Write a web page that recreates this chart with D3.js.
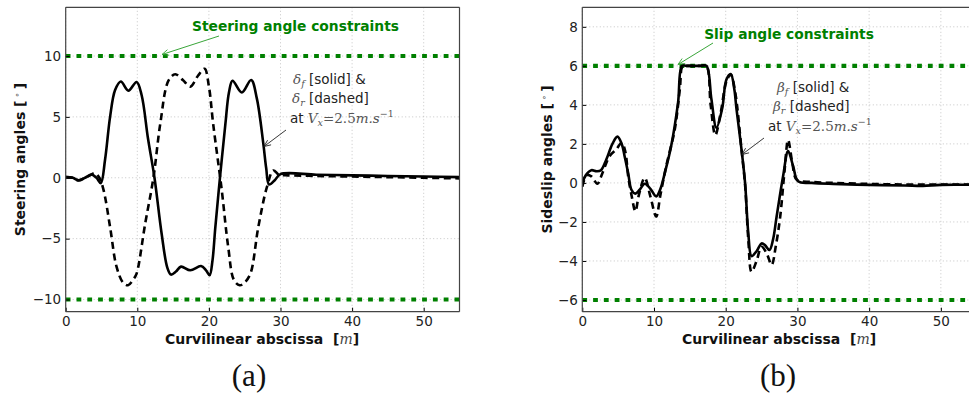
<!DOCTYPE html>
<html>
<head>
<meta charset="utf-8">
<script src="https://cdn.jsdelivr.net/npm/d3@7"></script>
<style>
  html, body { margin: 0; padding: 0; background: #fff; }
  svg { display: block; font-family: "DejaVu Sans", sans-serif; }
</style>
</head>
<body>
<svg id="chart" width="969" height="396"></svg>
<script>
// ---------------- DATA ----------------
// Panel (a): steering angles
const xTicksA = [0, 10, 20, 30, 40, 50];
const yTicksA = [-10, -5, 0, 5, 10];
const steeringLimit = [-10, 10];

const deltaF_x = [0, 1, 1.8, 2.7, 3.6, 4.3, 4.9, 5.5, 6.2, 6.9, 7.7, 8.75, 9.9, 10.6, 11.5, 12.4, 13.4, 14.2, 14.7, 15.4, 16.1, 17.4, 18.9, 19.6, 20.1, 20.5, 20.9, 21.6, 22.3, 22.8, 23.3, 24.6, 25.9, 26.7, 27.6, 28.0, 28.4, 29.2, 30.0, 35, 40, 45, 50, 55];
const deltaF_v = [0.05, 0.0, -0.22, 0.0, 0.27, 0.0, -0.44, 1.5, 5.0, 7.2, 7.9, 7.15, 7.87, 6.8, 3.2, 0.0, -4.6, -7.4, -7.95, -7.7, -7.3, -7.6, -7.25, -7.6, -8.0, -6.8, -4.05, 0.33, 4.4, 7.0, 7.97, 7.0, 8.03, 6.5, 2.8, 0.8, -0.55, -0.2, 0.3, 0.25, 0.2, 0.15, 0.1, 0.05];

const deltaR_x = [0, 1, 1.8, 2.7, 3.4, 4.1, 4.7, 5.3, 6.2, 7.1, 8.0, 8.7, 9.5, 9.9, 11.1, 12.25, 13.2, 14.35, 15.3, 16.4, 17.4, 18.5, 19.4, 20.0, 20.6, 21.8, 22.7, 23.5, 24.3, 25.0, 25.8, 26.9, 28.1, 29.0, 29.8, 31, 35, 40, 45, 50, 55];
const deltaR_v = [0.05, 0.0, -0.2, 0.0, 0.2, 0.38, 0.0, -1.04, -4.05, -7.3, -8.6, -8.83, -8.3, -7.87, -3.77, 0.0, 4.4, 7.97, 8.5, 8.0, 7.48, 8.4, 8.95, 7.5, 4.4, -1.04, -5.7, -8.4, -8.83, -8.6, -7.87, -4.05, -0.77, 0.6, 0.25, 0.2, 0.15, 0.1, 0.05, 0.0, -0.05];

// Panel (b): sideslip angles
const xTicksB = [0, 10, 20, 30, 40, 50];
const yTicksB = [-6, -4, -2, 0, 2, 4, 6, 8];
const slipLimit = [-6, 6];

const betaF_x = [0, 0.5, 1.26, 2.0, 2.6, 3.35, 4.2, 4.9, 5.5, 5.9, 6.4, 6.85, 7.4, 8.0, 8.7, 9.5, 10.3, 10.9, 11.5, 12.4, 13.35, 13.9, 14.5, 15.5, 16.5, 17.3, 18.0, 18.7, 19.5, 20.1, 20.7, 21.2, 21.5, 22.2, 22.7, 23.15, 23.6, 24.3, 25.0, 25.5, 26.1, 26.6, 27.1, 28.0, 28.7, 29.4, 30.1, 32, 35, 40, 45, 47.5, 50, 55];
const betaF_v = [0.0, 0.4, 0.65, 0.6, 0.65, 1.2, 2.0, 2.37, 2.0, 1.37, 0.5, -0.35, -0.55, -0.35, -0.04, -0.3, -0.69, -0.3, 0.5, 1.9, 4.1, 6.0, 6.0, 6.0, 6.0, 6.0, 4.3, 2.83, 3.8, 5.3, 5.58, 4.8, 3.8, 1.72, 0.0, -2.58, -3.75, -3.5, -3.1, -3.2, -3.44, -2.9, -1.72, 0.34, 1.63, 0.86, 0.08, 0.0, -0.05, -0.1, -0.13, -0.15, -0.1, -0.1];

const betaR_x = [0, 0.6, 1.26, 2.1, 2.8, 3.8, 4.7, 5.5, 6.0, 6.4, 6.9, 7.4, 7.9, 8.7, 9.5, 10.3, 10.9, 11.7, 12.9, 13.6, 14.0, 14.5, 15.5, 16.5, 17.3, 17.9, 18.55, 19.3, 20.1, 20.7, 21.3, 22.2, 22.7, 23.15, 23.6, 24.3, 25.0, 25.7, 26.4, 27.0, 27.6, 28.2, 28.7, 29.3, 29.9, 32, 35, 40, 45, 50, 55];
const betaR_v = [-0.2, 0.4, 0.34, -0.04, 0.5, 1.37, 1.7, 2.06, 1.6, 0.34, -0.7, -1.46, -0.6, 0.26, -0.7, -1.72, -0.6, 0.86, 2.75, 4.8, 6.0, 6.0, 6.0, 6.0, 6.0, 4.0, 2.45, 3.6, 5.2, 5.55, 4.7, 1.72, -0.1, -2.9, -4.55, -4.0, -3.27, -3.6, -4.2, -3.2, -1.72, 0.6, 2.2, 1.0, 0.17, 0.05, 0.0, -0.05, -0.08, -0.08, -0.08];

// ---------------- DRAW ----------------
const svg = d3.select("#chart");
const GREEN = "#008000";
const SANS = "'DejaVu Sans', sans-serif";
const SERIF = "'DejaVu Serif', serif";

const defs = svg.append("defs");
function arrowMarker(id, color) {
  defs.append("marker")
    .attr("id", id).attr("viewBox", "-10 -6 12 12")
    .attr("refX", 0).attr("refY", 0)
    .attr("markerWidth", 10).attr("markerHeight", 10)
    .attr("markerUnits", "userSpaceOnUse")
    .attr("orient", "auto")
    .append("path").attr("d", "M-8,-3.5 L0,0 L-8,3.5")
    .attr("fill", "none").attr("stroke", color).attr("stroke-width", 1);
}
arrowMarker("arrG", "#3aa63a");
arrowMarker("arrK", "#222");

function panel(cfg) {
  const x = d3.scaleLinear().domain(cfg.xDomain).range(cfg.xRange);
  const y = d3.scaleLinear().domain(cfg.yDomain).range([311.7, 7.3]);
  const g = svg.append("g");
  const [x0, x1] = cfg.xRange;
  const clipId = "clip" + cfg.id;
  defs.append("clipPath").attr("id", clipId).append("rect")
    .attr("x", x0).attr("y", 7.3).attr("width", x1 - x0).attr("height", 304.4);

  // grid
  const grid = g.append("g").attr("stroke", "#b8b8b8").attr("stroke-width", 0.8)
    .attr("stroke-dasharray", "1,2.5");
  grid.selectAll(".gx").data(cfg.xTicks).join("line")
    .attr("x1", d => x(d)).attr("x2", d => x(d)).attr("y1", 7.3).attr("y2", 311.7);
  grid.selectAll(".gy").data(cfg.yTicks).join("line")
    .attr("x1", x0).attr("x2", x1).attr("y1", d => y(d)).attr("y2", d => y(d));

  // constraint lines
  const plot = g.append("g").attr("clip-path", `url(#${clipId})`);
  plot.selectAll(".lim").data(cfg.limits).join("line")
    .attr("x1", x0).attr("x2", x1).attr("y1", d => y(d)).attr("y2", d => y(d))
    .attr("stroke", GREEN).attr("stroke-width", 4.2).attr("stroke-dasharray", "4.8,6");

  const line = d3.line().x(d => x(d[0])).y(d => y(d[1])).curve(d3.curveCatmullRom.alpha(0.5));
  const dashed = d3.zip(cfg.dx, cfg.dv);
  const solid = d3.zip(cfg.sx, cfg.sv);
  plot.append("path").datum(dashed).attr("d", line)
    .attr("fill", "none").attr("stroke", "#000").attr("stroke-width", 2.6)
    .attr("stroke-dasharray", "7,4.5");
  plot.append("path").datum(solid).attr("d", line)
    .attr("fill", "none").attr("stroke", "#000").attr("stroke-width", 2.6);

  // axes
  const ax = g.append("g").attr("transform", "translate(0,311.7)")
    .call(d3.axisBottom(x).tickValues(cfg.xTicks).tickSizeInner(-4).tickSizeOuter(0).tickPadding(5));
  const ay = g.append("g").attr("transform", `translate(${x0},0)`)
    .call(d3.axisLeft(y).tickValues(cfg.yTicks).tickSizeInner(-4).tickSizeOuter(0).tickPadding(4.5)
      .tickFormat(d => d < 0 ? "\u2212" + Math.abs(d) : String(d)));
  [ax, ay].forEach(a => {
    a.select(".domain").remove();
    a.selectAll("line").attr("stroke", "#000");
    a.selectAll("text").style("font-size", "13.5px").attr("fill", "#222")
      .style("font-family", SANS);
  });

  // spines
  const sp = g.append("g").attr("stroke", "#444").attr("stroke-width", 1.2).attr("fill", "none");
  sp.append("line").attr("x1", x0).attr("x2", x0).attr("y1", 7.3).attr("y2", 311.7);
  sp.append("line").attr("x1", x0).attr("x2", x1).attr("y1", 311.7).attr("y2", 311.7);
  sp.append("line").attr("x1", x0).attr("x2", x1).attr("y1", 7.3).attr("y2", 7.3);
  if (cfg.rightSpine) sp.append("line").attr("x1", x1).attr("x2", x1).attr("y1", 7.3).attr("y2", 311.7);

  // axis labels
  const xl = g.append("text").attr("x", cfg.xLabelX).attr("y", 343.5)
    .attr("text-anchor", "middle").style("font-size", "14px").style("font-weight", "bold")
    .style("font-family", SANS).attr("fill", "#111");
  xl.append("tspan").text("Curvilinear abscissa\u00a0\u00a0[");
  xl.append("tspan").text("m").style("font-family", SERIF).style("font-style", "italic")
    .style("font-weight", "normal").attr("fill", "#444");
  xl.append("tspan").text("]");

  const yl = g.append("text").attr("transform", `translate(${cfg.yLabelX},159.5) rotate(-90)`)
    .attr("text-anchor", "middle").style("font-size", "14px").style("font-weight", "bold")
    .style("font-family", SANS).attr("fill", "#111");
  yl.append("tspan").text(cfg.yLabel + " [\u2009");
  yl.append("tspan").text("\u2218").style("font-weight", "normal").style("font-size", "9px")
    .attr("dy", -5).attr("fill", "#555");
  yl.append("tspan").text("\u2009]").attr("dy", 5);

  // constraint title + arrow
  g.append("text").attr("x", cfg.titleX).attr("y", cfg.titleY).attr("text-anchor", "middle")
    .style("font-size", "13.8px").style("font-weight", "bold").style("font-family", SANS)
    .attr("fill", GREEN).text(cfg.title);
  g.append("line").attr("x1", cfg.gArrow[0]).attr("y1", cfg.gArrow[1])
    .attr("x2", cfg.gArrow[2]).attr("y2", cfg.gArrow[3])
    .attr("stroke", "#3aa63a").attr("stroke-width", 1).attr("marker-end", "url(#arrG)");

  // annotation
  const sym = cfg.sym;
  const ann = g.append("g").attr("fill", "#222");
  function txt(el) { return el.style("font-size", "13.5px").style("font-family", SANS); }
  function mathSym(t, s, sub) {
    t.append("tspan").text(s).style("font-family", SERIF).style("font-style", "italic").attr("fill", "#555");
    t.append("tspan").text(sub).style("font-family", SERIF).style("font-style", "italic")
      .style("font-size", "9.5px").attr("dy", 3).attr("fill", "#555");
  }
  const l1 = txt(ann.append("text").attr("x", cfg.ann[0][0]).attr("y", cfg.ann[0][1]));
  mathSym(l1, sym, "f");
  l1.append("tspan").text(" [solid] &").attr("dy", -3);
  const l2 = txt(ann.append("text").attr("x", cfg.ann[1][0]).attr("y", cfg.ann[1][1]));
  mathSym(l2, sym, "r");
  l2.append("tspan").text(" [dashed]").attr("dy", -3);
  const l3 = txt(ann.append("text").attr("x", cfg.ann[2][0]).attr("y", cfg.ann[2][1]));
  l3.append("tspan").text("at ");
  l3.append("tspan").text("V").style("font-family", SERIF).style("font-style", "italic").attr("fill", "#555");
  l3.append("tspan").text("x").style("font-family", SERIF).style("font-style", "italic")
    .style("font-size", "9.5px").attr("dy", 3).attr("fill", "#555");
  l3.append("tspan").text("=2.5").style("font-family", SERIF).attr("dy", -3).attr("fill", "#555");
  l3.append("tspan").text("m.s").style("font-family", SERIF).style("font-style", "italic").attr("fill", "#555");
  l3.append("tspan").text("\u22121").style("font-family", SERIF)
    .style("font-size", "9.5px").attr("dy", -6).attr("fill", "#555");
  g.append("line").attr("x1", cfg.kArrow[0]).attr("y1", cfg.kArrow[1])
    .attr("x2", cfg.kArrow[2]).attr("y2", cfg.kArrow[3])
    .attr("stroke", "#222").attr("stroke-width", 0.9).attr("marker-end", "url(#arrK)");

  // caption
  svg.append("text").attr("x", cfg.capX).attr("y", 386).attr("text-anchor", "middle")
    .style("font-family", "'Liberation Serif', 'DejaVu Serif', serif").style("font-size", "31px")
    .attr("fill", "#111").text(cfg.caption);
}

panel({
  id: "a", xDomain: [0, 55], xRange: [65.7, 459.5], yDomain: [-11, 14],
  xTicks: xTicksA, yTicks: yTicksA, limits: steeringLimit,
  sx: deltaF_x, sv: deltaF_v, dx: deltaR_x, dv: deltaR_v,
  rightSpine: true, xLabelX: 262, yLabelX: 25, yLabel: "Steering angles",
  title: "Steering angle constraints", titleX: 295.5, titleY: 31,
  gArrow: [219, 36, 162, 54.5], sym: "\u03b4",
  ann: [[293, 84], [292, 103], [290, 123]], kArrow: [286, 130, 264, 146.5],
  capX: 249, caption: "(a)"
});

panel({
  id: "b", xDomain: [0, 55], xRange: [582.3, 976.7], yDomain: [-6.6, 9],
  xTicks: xTicksB, yTicks: yTicksB, limits: slipLimit,
  sx: betaF_x, sv: betaF_v, dx: betaR_x, dv: betaR_v,
  rightSpine: false, xLabelX: 779, yLabelX: 552, yLabel: "Sideslip angles",
  title: "Slip angle constraints", titleX: 789, titleY: 39,
  gArrow: [713, 43, 678, 64.5], sym: "\u03b2",
  ann: [[777, 92], [773, 111], [768, 131]], kArrow: [764, 138, 742, 154.5],
  capX: 778, caption: "(b)"
});
</script>
</body>
</html>
